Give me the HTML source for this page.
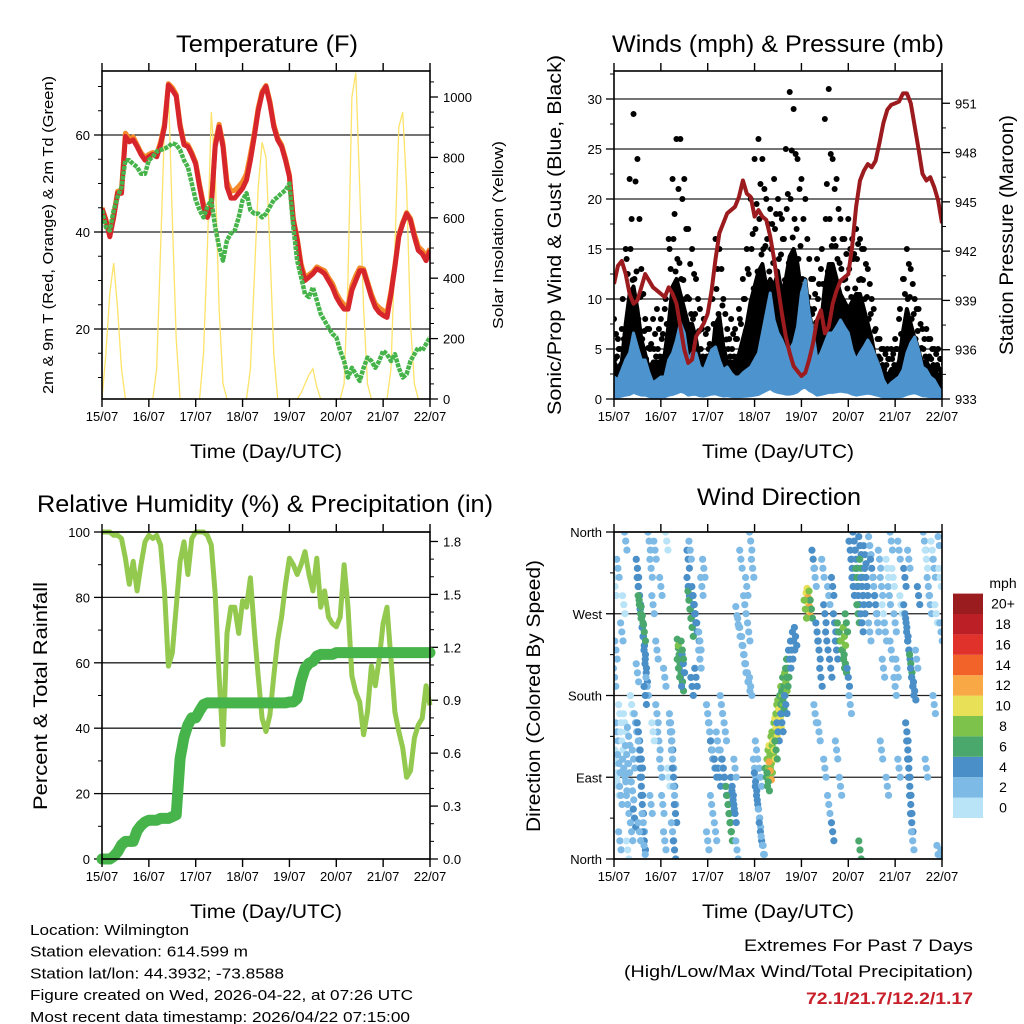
<!DOCTYPE html>
<html><head><meta charset="utf-8"><style>
html,body{margin:0;padding:0;background:#fff;}
svg{display:block;font-family:"Liberation Sans",sans-serif;}
</style></head><body>
<svg id="fig" width="1024" height="1024" viewBox="0 0 1024 1024" xmlns="http://www.w3.org/2000/svg"></svg>
<script>
// ---------- DATA (2-hour steps, 0..168 h) ----------
const dayLabels = ["15/07","16/07","17/07","18/07","19/07","20/07","21/07","22/07"];
const t2m = [44.8,42.4,39,43,48,48,59.7,58.6,59,57.6,56,54.8,55.5,56,55.5,58,61.7,70.3,69.3,68,61.7,58,57.6,56,54,49.3,45.2,43,45.2,57.6,61.7,57.6,49.3,47,47,48,49,50.7,54.8,59.7,65,68.6,70,66.5,61.7,59,57.6,54.8,51.4,42.4,38.3,32.8,30,30.7,31.4,32.4,32,31.4,30,28.6,26.6,25.2,24.1,24.1,28,30,32,32,29.3,26.6,24.5,23.4,22.8,22.4,27.2,32.8,39,41.7,43.8,42.4,39,36.2,35.5,34.1,36.2];
const t9m = [45,42.6,39.4,43.4,48.4,48.6,60.4,59.2,59.6,58,56.4,55.4,56,56.4,56,58.6,62.2,70.6,69.8,68.4,62.2,58.4,58,56.4,54.4,49.8,45.8,43.6,45.8,58.2,62.2,58.2,50.4,48.4,48.6,49.4,50.4,52,56,60.4,65.6,69,70.2,67,62.2,59.4,58,55.2,51.8,42.8,38.8,33.4,30.6,31.2,31.8,32.8,32.4,32,30.6,29.4,27.4,26,25,24.8,29,31,32.6,32.4,29.8,27.2,25.2,24.4,23.8,23.4,27.8,33.2,39.4,42,44,42.8,39.6,37,36.2,35,36.6];
const td2m = [44.5,41,40.3,44.5,47.2,49.3,54.8,54.8,54,53.4,52,52,54.8,55.5,56.6,56.9,57.2,57.6,58.3,58,56.9,54.8,53.4,50,46.6,44.5,43,45.2,46.6,41,36.9,34.1,38.3,39.7,40.3,43,46.6,48,44.5,43.8,43.8,43,43.8,45.2,46.6,47.2,48,48.6,50,41,34.1,30.7,27.2,26.6,28.6,25.9,23.1,21.7,20.3,19,18.3,15.5,13.4,10,12,10.7,9.3,12,14.1,13.4,12,13.4,15.5,14.8,13.4,14.8,12,10,10.7,13.4,14.8,16.2,15.5,16.9,18.3];
const solar = [0,150,350,450,300,100,0,0,0,0,0,0,0,0,100,500,900,1030,600,200,0,0,0,0,0,0,150,500,950,750,300,50,0,0,0,0,0,0,100,400,700,850,800,500,150,0,0,0,0,0,0,20,50,80,100,40,0,0,0,0,0,0,50,400,1000,1080,700,300,50,0,0,0,0,0,100,500,900,950,700,250,50,0,0,0,0];
const pressure = [940,941.1,941.4,940.6,939.4,938.8,939,939.8,940.6,940.2,939.8,939.6,939.4,939.2,939.8,939.4,938.8,937.4,936,935.2,935.4,936.8,937.2,937.6,938.2,939.6,941.5,943.1,943.7,944.3,944.5,944.7,945.3,946.3,945.5,945.3,944.1,944.5,944.1,943.9,942.9,941.5,939.8,938.2,936.8,935.8,935,934.7,934.4,934.6,935.4,936.4,937.8,938.4,937,937.4,938.8,939.6,940.2,940.4,940.6,942.3,944.7,946.3,946.9,947.3,947.1,947.5,948.6,949.8,950.6,950.9,951,951.1,951.6,951.6,951,949.6,948.2,946.7,946.3,946.5,945.9,945.1,943.7];
const windSpd = [2.2,1.9,2.9,3.9,4.6,6.6,5.2,3.9,3.9,2.6,1.6,1.9,2.2,2.2,3.9,4.6,5.9,7.6,6.6,3.9,4.6,4.6,3.2,2.9,3.9,4.9,5.2,3.9,2.9,3.2,2.6,2.2,2.2,2.6,2.9,3.2,3.9,4.6,6.6,8.6,10.6,7.9,6.6,5.9,4.9,4.9,5.6,7.2,10.6,11.9,8.6,6.6,3.9,4.6,5.6,6.6,6.6,7.2,7.9,7.2,6.6,4.9,3.9,4.6,5.2,5.9,5.2,4.2,3.2,1.9,1.2,1.6,1.9,2.2,2.9,4.6,5.6,6.2,4.9,3.2,2.9,2.2,1.9,1.2,0.6];
const gustCore = [5,4,5,10,14,15,12,8,6,4,5,5,5,6,10,15,16,14,12,10,10,8,5,5,4,5,10,11,7,5,5,5,6,8,10,13,15,17,18,15,16,15,17,14,16,19,20,18,14,12,10,9,9,10,15,18,18,16,14,13,12,13,14,14,12,10,8,5,4,4,3,4,4,5,9,12,10,8,6,5,5,4,4,3,3];
const gustMax = [8,6,7,15,22,28.5,24,13,8,7,8,9,8,9,16,22,26,26,22,17,15,12,9,8,7,10,16,15,10,7,8,7,9,12,15,20,24,26,24,20,19,22,20,18,25,30.7,29,24,22,20,14,12,14,13,28,31,24,22,18,16,18,16,17,16,15,13,10,7,6,5,5,5,6,8,12,15,13,10,9,7,7,6,5,5,4];
const rh = [100,100,100,99,99,98,92,84,91,82,90,97,99,98,99,96,82,59,63,77,91,97,87,98,100,100,100,99,96,81,56,35,69,77,77,69,79,77,86,70,56,43,39,44,56,67,74,84,92,90,87,90,94,87,82,92,77,82,74,72,71,74,90,77,56,51,48,38,45,59,53,61,72,77,61,45,39,34,25,27,37,41,43,53,47];
const precip = [0,0,0,0.015,0.04,0.08,0.1,0.1,0.1,0.16,0.19,0.21,0.22,0.22,0.22,0.23,0.23,0.23,0.24,0.25,0.57,0.69,0.76,0.8,0.8,0.84,0.875,0.885,0.885,0.885,0.885,0.885,0.885,0.885,0.885,0.885,0.885,0.885,0.885,0.885,0.885,0.885,0.885,0.885,0.885,0.885,0.885,0.885,0.89,0.89,0.91,1.01,1.08,1.11,1.12,1.15,1.16,1.16,1.16,1.16,1.17,1.17,1.17,1.17,1.17,1.17,1.17,1.17,1.17,1.17,1.17,1.17,1.17,1.17,1.17,1.17,1.17,1.17,1.17,1.17,1.17,1.17,1.17,1.17,1.17];
// wind direction observations (hours, degrees, mph)
const dirHours = [0.5,1,1.5,2,2.5,3,3.5,4,5,5.5,6,6.5,7,7.5,8,9,9.5,10,10.5,11,0.3,1,0.5,2,4,5,6,3,7,9,
12,12.5,13,13.5,14,14.5,15,15.5,16,16.5,17,13,14.5,15.5,12,16,12.5,13,13.5,14,14.5,15,15.5,16,13,14,
18,19,20,21,22,23,24,25,26,27,19,20,22,24,26,28,
29,29.5,30,30.5,31,31.5,30,31,29,
33,33.5,34,34.5,35,35.5,34,35,33,
38,38.5,39,39.5,40,40.5,41,41.5,42,43,44,45,46,38,39,42,40,44,
48,49,50,51,52,53,54,55,56,57,58,58.5,59,59.5,60,60.5,61,62,57,55,50,52,48,62,63,
63,64,65,66,66.5,67,68,69,70,65,68,70,71,67,69,
72,72.5,73,74,74.5,75,76,77,73,75,
78,79,79.5,80,80.5,81,81.5,82,82.5,83,83.5,84,84.5,85,85.5,86,86.5,87,88,88.5,89,90,91,92,93,80,84,86,88,79,83,
99,99.5,100,100.5,101,98,
102,103,104,105,106,107,108,109,110,111,112,113,114,115,116,117,117.5,118,118.5,119,120,121,105,108,110,112,114,116,103,
121,122,122.5,123,124,124.5,125,126,126.5,127,128,128.5,129,130,131,132,133,134,135,125,127,131,126,
136,137,138,139,140,141,142,143,144,145,146,147,138,142,144,137,140,146,
149,150,150.5,151,152,152.5,153,154,150,150.5,151,151.5,152,152.5,153,149,151,155,156,
159,160,161,162,163,164,165,166,167,167.5,168,166,160,164];
const dirDegs = [120,95,140,80,105,160,70,130,100,150,85,115,60,135,95,170,75,110,45,150,200,230,300,320,250,280,350,20,10,30,
320,300,290,275,265,255,245,235,220,205,190,280,268,250,205,180,140,120,100,80,60,40,20,5,30,110,
350,320,280,340,160,130,100,60,20,350,60,140,230,300,200,90,
150,130,110,90,70,50,30,10,140,
232,225,215,205,195,215,200,230,210,
300,285,275,265,255,290,280,270,260,250,240,300,320,330,340,200,190,220,
160,140,120,110,100,130,90,110,100,80,70,60,50,40,30,80,65,100,140,170,60,30,20,50,10,
268,255,245,235,225,215,205,195,190,330,300,350,320,280,250,
100,85,70,55,45,30,15,5,120,90,
90,100,110,115,105,125,130,120,140,145,150,160,165,155,170,180,175,190,195,200,210,220,230,240,245,97,140,150,170,85,120,
283,288,278,285,275,275,
330,310,250,230,200,320,270,240,290,210,300,260,230,250,240,230,220,245,215,260,200,170,140,100,60,30,120,80,160,
340,320,300,350,330,310,290,345,320,300,280,335,310,290,345,320,300,280,260,270,260,250,10,
330,300,270,250,320,290,230,310,260,210,340,280,210,350,190,120,80,100,
270,255,240,230,215,200,190,185,140,120,100,80,60,40,20,310,330,220,290,
350,330,300,280,340,320,270,355,310,250,0,5,100,170];
const dirSpeeds = [1,1,2,1,2,1,2,1,2,1,2,3,3,2,3,1,2,3,4,3,3,2,1,2,3,1,2,2,1,2,
4,5,4,6,5,6,4,5,4,4,3,7,6,7,3,4,4,3,5,4,4,3,4,2,3,4,
3,2,3,2,3,2,3,2,3,1,2,1,2,2,3,1,
3,4,3,4,3,4,3,4,2,
7,8,7,7,6,5,4,7,6,
4,7,6,7,6,5,5,4,5,4,3,3,3,4,3,4,5,2,
3,3,4,3,4,3,4,3,4,5,6,6,7,7,6,4,5,3,3,2,3,3,2,4,2,
3,3,3,3,3,3,3,3,2,2,2,2,3,3,2,
3,4,4,4,3,4,3,2,3,2,
7,8,8,10,9,9,8,10,9,10,8,8,9,10,7,8,6,7,8,7,6,5,5,4,4,12,5,5,5,6,6,
10,11,12,9,7,8,
4,3,5,4,4,3,4,5,3,4,4,5,4,6,7,8,7,8,7,6,4,3,3,2,3,4,3,3,2,
4,5,4,4,5,6,4,5,6,5,4,4,5,4,3,4,3,4,3,6,4,3,6,
2,2,1,2,1,2,2,1,2,3,2,1,2,2,2,3,3,2,
4,4,5,4,6,4,5,4,4,4,5,4,5,4,3,4,3,3,4,
2,1,2,2,1,2,1,2,1,2,3,3,2,3];
const speedLabels = ["0","2","4","6","8","10","12","14","16","18","20+"];
const speedColors = ["#b9e3f7","#7ebae6","#4a8fc7","#4aa86d","#7dc24b","#e8e157","#f8a844","#f26329","#e0312a","#bd1f26","#9b1c1f"];

// ---------- helpers ----------
const NS = "http://www.w3.org/2000/svg";
const svg = document.getElementById("fig");
function mk(tag, attrs, parent) {
  const e = document.createElementNS(NS, tag);
  for (const k in attrs) e.setAttribute(k, attrs[k]);
  (parent || svg).appendChild(e);
  return e;
}
function txt(s, x, y, size, anchor, parent, extra) {
  const t = mk("text", Object.assign({x:x, y:y, "font-size":size, "text-anchor":anchor||"middle", fill:"#000"}, extra||{}), parent);
  t.textContent = s;
  return t;
}
const stepH = 2;
function xScale(x0) { return h => x0 + h * 328 / 168; }
function pathOf(vals, xs, ys) {
  return vals.map((v,i) => (i ? "L" : "M") + xs(i*stepH).toFixed(1) + "," + ys(v).toFixed(1)).join("");
}
function frame(g, x0, y0, y1) {
  const r = mk("rect", {x:x0, y:y0, width:328, height:y1-y0, fill:"none", stroke:"#000", "stroke-width":1.6}, g);
  
  
}
function xAxis(g, x0, y0, y1) {
  const xs = xScale(x0);
  dayLabels.forEach((d,i) => {
    const x = xs(i*24);
    mk("line", {x1:x, x2:x, y1:y1, y2:y1+8, stroke:"#000", "stroke-width":1.4}, g);
    mk("line", {x1:x, x2:x, y1:y0, y2:y0-8, stroke:"#000", "stroke-width":1.4}, g);
    const t = txt(d, x, y1+22, 13, "middle", g);
    
    
  });
  const at = txt("Time (Day/UTC)", x0+164, y1+59, 19, "middle", g, {textLength:152, lengthAdjust:"spacingAndGlyphs"});
  
  
}
function yTicks(g, xEdge, side, ticks, ys, labels, grid, x0, minor) {
  ticks.forEach((v,i) => {
    const y = ys(v);
    if (grid) mk("line", {x1:x0, x2:x0+328, y1:y, y2:y, stroke:"#222", "stroke-width":1.3}, g);
    mk("line", {x1:xEdge, x2:xEdge + side*8, y1:y, y2:y, stroke:"#000", "stroke-width":1.3}, g);
    const t = txt(labels[i], side < 0 ? xEdge-12 : xEdge+13, y+5, 13, side < 0 ? "end" : "start", g);
    
    
  });
  (minor||[]).forEach(v => {
    const y = ys(v);
    mk("line", {x1:xEdge, x2:xEdge + side*4, y1:y, y2:y, stroke:"#000", "stroke-width":1}, g);
  });
}
function title(s, cx, y, len) {
  const t = txt(s, cx, y, 24, "middle", svg, {textLength:len, lengthAdjust:"spacingAndGlyphs"});
  
  
}
function vlabel(s, x, cy, size, len, name) {
  const t = txt(s, 0, 0, size, "middle", svg, {transform:"translate("+x+","+cy+") rotate(-90)", textLength:len, lengthAdjust:"spacingAndGlyphs"});
  
  
}

// ---------- Panel 1: Temperature ----------
(function(){
  const g = mk("g", {});
  
  
  const x0 = 102, y0 = 71, y1 = 399;
  const xs = xScale(x0);
  const yT = v => 232 - (v-40)*4.85;
  const yS = v => 399 - v*0.302;
  const cp = mk("clipPath", {id:"c1"}, g);
  mk("rect", {x:x0, y:y0, width:328, height:y1-y0}, cp);
  yTicks(g, x0, -1, [20,40,60], yT, ["20","40","60"], true, x0, [10,15,25,30,35,45,50,55,65,70]);
  yTicks(g, x0+328, 1, [0,200,400,600,800,1000], yS, ["0","200","400","600","800","1000"], false, x0, [50,100,150,250,300,350,450,500,550,650,700,750,850,900,950,1050]);
  const d = mk("g", {"clip-path":"url(#c1)"}, g);
  const s = mk("path", {d:pathOf(solar, xs, yS), fill:"none", stroke:"#fde36a", "stroke-width":1.3}, d);
  
  
  const o = mk("path", {d:pathOf(t9m, xs, yT), fill:"none", stroke:"#f58a2a", "stroke-width":5, "stroke-linejoin":"round"}, d);
  
  
  const r = mk("path", {d:pathOf(t2m, xs, yT), fill:"none", stroke:"#d7262b", "stroke-width":5, "stroke-linejoin":"round"}, d);
  
  
  const gr = mk("path", {d:pathOf(td2m, xs, yT), fill:"none", stroke:"#46b44a", "stroke-width":4.5, "stroke-dasharray":"4 1", "stroke-linejoin":"round"}, d);
  
  
  frame(g, x0, y0, y1);
  xAxis(g, x0, y0, y1);
  title("Temperature (F)", 267, 52, 182);
  vlabel("2m & 9m T (Red, Orange) & 2m Td (Green)", 53, 235, 15, 318, 'left-axis-title');
  vlabel("Solar Insolation (Yellow)", 503, 235, 15, 188, 'right-axis-title');
})();

// ---------- Panel 2: Winds & Pressure ----------
(function(){
  const g = mk("g", {});
  
  
  const x0 = 614, y0 = 71, y1 = 399;
  const xs = xScale(x0);
  const yW = v => 399 - v*10;
  const yP = v => 399 - (v-933)*16.43;
  const cp = mk("clipPath", {id:"c2"}, g);
  mk("rect", {x:x0, y:y0, width:328, height:y1-y0}, cp);
  yTicks(g, x0, -1, [0,5,10,15,20,25,30], yW, ["0","5","10","15","20","25","30"], true, x0, [2.5,7.5,12.5,17.5,22.5,27.5,32.5]);
  yTicks(g, x0+328, 1, [933,936,939,942,945,948,951], yP, ["933","936","939","942","945","948","951"], false, x0, [934.5,937.5,940.5,943.5,946.5,949.5]);
  const d = mk("g", {"clip-path":"url(#c2)"}, g);
  // dense gust band (wind to ~75% of gust core)
  let top = gustCore.map((v,i)=>(i?"L":"M")+xs(i*stepH).toFixed(1)+","+yW(v*0.75).toFixed(1)).join("");
  let bot = windSpd.slice().reverse().map((v,j)=>{const i=windSpd.length-1-j;return "L"+xs(i*stepH).toFixed(1)+","+yW(v).toFixed(1);}).join("");
  const band = mk("path", {d:top+bot+"Z", fill:"#000", stroke:"#000", "stroke-width":4, "stroke-linejoin":"round"}, d);
  
  
  gustMax.forEach((v,i) => {
    const c = mk("circle", {cx:xs(i*stepH), cy:yW(v), r:3, fill:"#000"}, d);
    
    
  });
  gustCore.forEach((v,i) => {
    [[-1.5,0],[1.5,0.85],[0,0.65]].forEach(o => {
      const c = mk("circle", {cx:xs(i*stepH)+o[0]*2, cy:yW(v*(o[1]||1)), r:3, fill:"#000"}, d);
      
      
    });
  });
  gustMax.forEach((v,i) => {
    const c = mk("circle", {cx:xs(i*stepH)+2, cy:yW((v+gustCore[i])/2), r:3, fill:"#000"}, d);
    
    
  });
  // wind band
  let wt = windSpd.map((v,i)=>(i?"L":"M")+xs(i*stepH).toFixed(1)+","+yW(v).toFixed(1)).join("");
  let wb = windSpd.slice().reverse().map((v,j)=>{const i=windSpd.length-1-j;return "L"+xs(i*stepH).toFixed(1)+","+yW(v*0.1).toFixed(1);}).join("");
  const wl = mk("path", {d:wt+wb+"Z", fill:"#4d94cf", stroke:"#4d94cf", "stroke-width":3, "stroke-linejoin":"round"}, d);
  
  
  const p = mk("path", {d:pathOf(pressure, xs, yP), fill:"none", stroke:"#9b1b1e", "stroke-width":4, "stroke-linejoin":"round"}, d);
  
  
  frame(g, x0, y0, y1);
  xAxis(g, x0, y0, y1);
  title("Winds (mph) & Pressure (mb)", 778, 52, 332);
  vlabel("Sonic/Prop Wind & Gust (Blue, Black)", 561, 235, 19, 360, 'left-axis-title');
  vlabel("Station Pressure (Maroon)", 1013, 235, 19, 240, 'right-axis-title');
})();

// ---------- Panel 3: RH & Precip ----------
(function(){
  const g = mk("g", {});
  
  
  const x0 = 102, y0 = 532, y1 = 859;
  const xs = xScale(x0);
  const yR = v => 859 - v*3.27;
  const yI = v => 859 - v*176.4;
  const cp = mk("clipPath", {id:"c3"}, g);
  mk("rect", {x:x0-8, y:y0-8, width:346, height:y1-y0+16}, cp);
  yTicks(g, x0, -1, [0,20,40,60,80,100], yR, ["0","20","40","60","80","100"], true, x0, [10,30,50,70,90]);
  yTicks(g, x0+328, 1, [0,0.3,0.6,0.9,1.2,1.5,1.8], yI, ["0.0","0.3","0.6","0.9","1.2","1.5","1.8"], false, x0, [0.1,0.2,0.4,0.5,0.7,0.8,1.0,1.1,1.3,1.4,1.6,1.7]);
  const d = mk("g", {"clip-path":"url(#c3)"}, g);
  const r = mk("path", {d:pathOf(rh, xs, yR), fill:"none", stroke:"#92c94e", "stroke-width":5, "stroke-linejoin":"round"}, d);
  
  
  const p = mk("path", {d:pathOf(precip, xs, yI), fill:"none", stroke:"#46b44a", "stroke-width":11, "stroke-linejoin":"round", "stroke-linecap":"round"}, d);
  
  
  frame(g, x0, y0, y1);
  xAxis(g, x0, y0, y1);
  title("Relative Humidity (%) & Precipitation (in)", 265, 512, 456);
  vlabel("Percent & Total Rainfall", 47, 696, 19, 228, 'left-axis-title');
})();

// ---------- Panel 4: Wind Direction ----------
(function(){
  const g = mk("g", {});
  
  
  const x0 = 614, y0 = 532, y1 = 859;
  const xs = xScale(x0);
  const yD = v => 859 - v*327/360;
  const cp = mk("clipPath", {id:"c4"}, g);
  mk("rect", {x:x0, y:y0, width:328, height:y1-y0}, cp);
  yTicks(g, x0, -1, [0,90,180,270,360], yD, ["North","East","South","West","North"], true, x0, [45,135,225,315]);
  const d = mk("g", {"clip-path":"url(#c4)"}, g);
  // each observation drawn as a short vertical streak of dots
  dirHours.forEach((h,i) => {
    const bin = Math.min(10, Math.floor(dirSpeeds[i]/2));
    [-9,0,9].forEach((o,j) => {
      const c = mk("circle", {cx:xs(h)+(j-1)*1.2, cy:yD(dirDegs[i])+o, r:3.6, fill:speedColors[bin]}, d);
      
      
    });
  });
  frame(g, x0, y0, y1);
  xAxis(g, x0, y0, y1);
  title("Wind Direction", 779, 505, 164);
  vlabel("Direction (Colored By Speed)", 540, 696, 19, 272, 'left-axis-title');
  // colorbar
  const cb = mk("g", {}, svg);
  
  
  const m = txt("mph", 1003, 588, 14, "middle", cb);
  
  
  speedColors.forEach((c,i) => {
    const y = 818 - (i+1)*20.4;
    const r = mk("rect", {x:953, y:y, width:30, height:20.4, fill:c}, cb);
    
    
    const t = txt(speedLabels[i], 1003, y+15, 14, "middle", cb);
    
    
  });
})();

// ---------- footer text ----------
(function(){
  const info = [["Location: Wilmington",159],["Station elevation: 614.599 m",218],["Station lat/lon: 44.3932; -73.8588",254],["Figure created on Wed, 2026-04-22, at 07:26 UTC",383],["Most recent data timestamp: 2026/04/22 07:15:00",380]];
  info.forEach((l,i) => {
    const t = txt(l[0], 30, 935 + i*21.7, 15, "start", svg, {textLength:l[1], lengthAdjust:"spacingAndGlyphs"});
    
    
  });
  const a = txt("Extremes For Past 7 Days", 973, 951, 17, "end", svg, {textLength:229, lengthAdjust:"spacingAndGlyphs"});
  
  
  const b = txt("(High/Low/Max Wind/Total Precipitation)", 973, 977, 17, "end", svg, {textLength:349, lengthAdjust:"spacingAndGlyphs"});
  
  
  const c = txt("72.1/21.7/12.2/1.17", 973, 1004, 17, "end", svg, {fill:"#c8202a", "font-weight":"bold", textLength:167, lengthAdjust:"spacingAndGlyphs"});
  
  
})();
</script>
</body></html>
